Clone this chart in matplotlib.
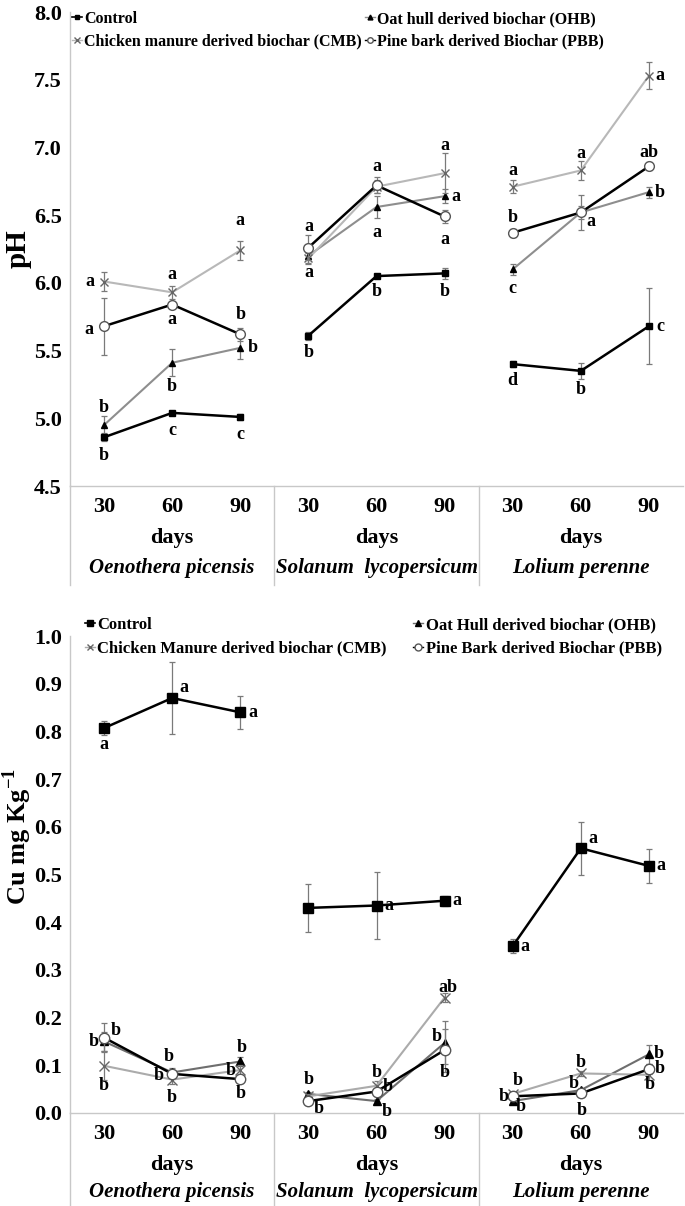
import matplotlib
matplotlib.use('Agg')
import matplotlib.pyplot as plt
from matplotlib.lines import Line2D

plt.rcParams['font.family'] = ['Liberation Serif', 'DejaVu Serif']
plt.rcParams['font.weight'] = 'bold'
plt.rcParams['mathtext.fontset'] = 'custom'
plt.rcParams['mathtext.rm'] = 'Liberation Serif:bold'
plt.rcParams['mathtext.bf'] = 'Liberation Serif:bold'

# ---------------- data ----------------
days = ['30', '60', '90']
species = ['Oenothera picensis', 'Solanum  lycopersicum', 'Lolium perenne']
series_names_ph = ['Control', 'Oat hull derived biochar (OHB)',
                   'Chicken manure derived biochar (CMB)', 'Pine bark derived Biochar (PBB)']
series_names_cu = ['Control', 'Oat Hull derived biochar (OHB)',
                   'Chicken Manure derived biochar (CMB)', 'Pine Bark derived Biochar (PBB)']

ph_control = [4.86, 5.04, 5.01, 5.61, 6.05, 6.07, 5.40, 5.35, 5.68]
ph_control_err = [0.03, 0.01, 0.02, 0.03, 0.01, 0.04, 0.02, 0.06, 0.28]
ph_ohb = [4.95, 5.41, 5.52, 6.20, 6.56, 6.64, 6.10, 6.52, 6.67]
ph_ohb_err = [0.07, 0.10, 0.08, 0.05, 0.08, 0.05, 0.04, 0.05, 0.04]
ph_cmb = [6.01, 5.93, 6.24, 6.18, 6.71, 6.81, 6.71, 6.83, 7.53]
ph_cmb_err = [0.07, 0.05, 0.07, 0.04, 0.05, 0.15, 0.05, 0.07, 0.10]
ph_pbb = [5.68, 5.84, 5.62, 6.26, 6.72, 6.49, 6.37, 6.52, 6.86]
ph_pbb_err = [0.21, 0.01, 0.05, 0.09, 0.06, 0.05, 0.03, 0.13, 0.03]

ph_control_let = ['b', 'c', 'c', 'b', 'b', 'b', 'd', 'b', 'c']
ph_ohb_let = ['b', 'b', 'b', '', 'a', 'a', 'c', '', 'b']
ph_cmb_let = ['a', 'a', 'a', 'a', '', 'a', 'a', 'a', 'a']
ph_pbb_let = ['a', 'a', 'b', 'a', 'a', 'a', 'b', 'a', 'ab']

cu_control = [0.807, 0.870, 0.840, 0.430, 0.435, 0.445, 0.350, 0.555, 0.518]
cu_control_err = [0.015, 0.075, 0.035, 0.050, 0.070, 0.010, 0.015, 0.056, 0.036]
cu_ohb = [0.150, 0.085, 0.108, 0.040, 0.025, 0.147, 0.025, 0.048, 0.123]
cu_ohb_err = [0.020, 0.010, 0.010, 0.005, 0.005, 0.045, 0.005, 0.005, 0.020]
cu_cmb = [0.099, 0.070, 0.090, 0.035, 0.057, 0.242, 0.040, 0.083, 0.080]
cu_cmb_err = [0.030, 0.010, 0.010, 0.005, 0.010, 0.010, 0.005, 0.005, 0.010]
cu_pbb = [0.158, 0.082, 0.071, 0.025, 0.045, 0.132, 0.035, 0.041, 0.092]
cu_pbb_err = [0.030, 0.005, 0.005, 0.005, 0.005, 0.045, 0.005, 0.005, 0.010]

cu_control_let = ['a', 'a', 'a', '', 'a', 'a', 'a', 'a', 'a']
cu_ohb_let = ['b', 'b', 'b', 'b', 'b', 'b', 'b', 'b', 'b']
cu_cmb_let = ['b', 'b', 'b', '', 'b', 'ab', 'b', 'b', 'b']
cu_pbb_let = ['b', 'b', 'b', 'b', 'b', 'b', 'b', 'b', 'b']

# ---------------- layout (letter offsets in pixels) ----------------
B = (0, -18)
ph_control_off = [B, B, B, (0, -17), (0, -15), (0, -18), (0, -16), (0, -19), (11, 0)]
ph_ohb_off = [(0, 18), (0, -24), (12, 0), (0, 0), (0, -25), (11, 0), (0, -19), (0, 0), (11, 0)]
ph_cmb_off = [(-14, 0), (0, 18), (0, 30), (0, -14), (0, 0), (0, 28), (0, 16), (0, 17), (11, 0)]
ph_pbb_off = [(-15, -3), (0, -15), (0, 20), (0, 21), (0, 19), (0, -23), (0, 15), (10, -9), (0, 14)]

cu_control_off = [(0, -16), (12, 11), (13, 0), (0, 0), (12, 0), (12, 0), (12, 0), (12, 10), (12, 0)]
cu_ohb_off = [(-10, 0), (-13, -3), (1, 14), (0, 14), (10, -10), (-8, 6), (8, -5), (-7, 7), (10, 1)]
cu_cmb_off = [(0, -20), (0, -18), (-10, 0), (0, 0), (0, 13), (3, 10), (5, 13), (0, 11), (1, -10)]
cu_pbb_off = [(12, 7), (-3, 17), (0, -14), (10, -7), (11, 5), (0, -22), (-9, 0), (1, -17), (11, 1)]

W, H = 685, 1206
fig = plt.figure(figsize=(W / 100, H / 100), dpi=100)


def axes_px(left, top, right, bottom):
    return fig.add_axes([left / W, 1 - bottom / H, (right - left) / W, (bottom - top) / H])


xs = list(range(9))
AXC = '#c8c8c8'
ERRC = '#7a7a7a'


def draw_series(ax, vals, errs, lets, offs, style, zo):
    for g in range(3):
        gx = xs[3 * g:3 * g + 3]
        gv = vals[3 * g:3 * g + 3]
        ge = errs[3 * g:3 * g + 3]
        ax.errorbar(gx, gv, yerr=ge, fmt='none', ecolor=ERRC, elinewidth=0.9,
                    capsize=2, capthick=0.9, zorder=zo - 0.5)
        ax.plot(gx, gv, zorder=zo, **style)
    for x, v, t, o in zip(xs, vals, lets, offs):
        if t:
            ax.annotate(t, (x, v), xytext=o, textcoords='offset pixels',
                        ha='center', va='center', fontsize=13, fontweight='bold',
                        zorder=20)


def setup_axes(ax, ylo, yhi, yticks, fmt, table_px, offs_px):
    ax.set_xlim(-0.5, 8.5)
    ax.set_ylim(ylo, yhi)
    ax.set_yticks(yticks)
    ax.set_yticklabels([fmt.format(t) for t in yticks], fontsize=16, fontweight='bold')
    ax.tick_params(axis='y', length=0, pad=6)
    ax.set_xticks([])
    for s in ['top', 'right']:
        ax.spines[s].set_visible(False)
    for s in ['left', 'bottom']:
        ax.spines[s].set_color(AXC)
        ax.spines[s].set_linewidth(1.0)
    tr = ax.get_xaxis_transform()
    hpx = ax.get_position().height * H
    for xb in [-0.5, 2.5, 5.5]:
        ax.plot([xb, xb], [0, -table_px / hpx], transform=tr, color=AXC, lw=1.0,
                clip_on=False)
    for g in range(3):
        for i in range(3):
            ax.annotate(days[i], (3 * g + i, 0), xycoords=tr, xytext=(0, -offs_px[0]),
                        textcoords='offset pixels', ha='center', va='center',
                        fontsize=16, fontweight='bold')
        ax.annotate('days', (3 * g + 1, 0), xycoords=tr, xytext=(0, -offs_px[1]),
                    textcoords='offset pixels', ha='center', va='center',
                    fontsize=16, fontweight='bold')
        ax.annotate(species[g], (3 * g + 1, 0), xycoords=tr, xytext=(0, -offs_px[2]),
                    textcoords='offset pixels', ha='center', va='center',
                    fontsize=15, fontweight='bold', fontstyle='italic')


# ---------------- top chart: pH ----------------
ax1 = axes_px(70, 12, 683, 486)
setup_axes(ax1, 4.5, 8.0, [4.5, 5.0, 5.5, 6.0, 6.5, 7.0, 7.5, 8.0], '{:.1f}', 99, (21, 52, 82))
ax1.set_ylabel('pH', fontsize=21, fontweight='bold')
ax1.yaxis.set_label_coords(-0.062, 0.5)

st_ctrl = dict(color='black', lw=1.8, marker='s', ms=4, mfc='black', mec='black')
st_ohb = dict(color='#8e8e8e', lw=1.5, marker='^', ms=5, mfc='black', mec='black')
st_cmb = dict(color='#b8b8b8', lw=1.5, marker='x', ms=6, mec='#666666', mew=1.0)
st_pbb = dict(color='black', lw=1.8, marker='o', ms=7, mfc='white', mec='#555555', mew=1.0)

draw_series(ax1, ph_control, ph_control_err, ph_control_let, ph_control_off, st_ctrl, 5)
draw_series(ax1, ph_ohb, ph_ohb_err, ph_ohb_let, ph_ohb_off, st_ohb, 3)
draw_series(ax1, ph_cmb, ph_cmb_err, ph_cmb_let, ph_cmb_off, st_cmb, 4)
draw_series(ax1, ph_pbb, ph_pbb_err, ph_pbb_let, ph_pbb_off, st_pbb, 6)

hd = [Line2D([], [], color='black', lw=1.2, marker='s', ms=2.5),
      Line2D([], [], color='#b8b8b8', lw=1.0, marker='x', ms=4, mec='#666666'),
      Line2D([], [], color='#8e8e8e', lw=1.0, marker='^', ms=3.5, mfc='black', mec='black'),
      Line2D([], [], color='black', lw=1.0, marker='o', ms=4, mfc='white', mec='#555555')]
lb = [series_names_ph[0], series_names_ph[2], series_names_ph[1], series_names_ph[3]]
ax1.legend(hd, lb, ncol=2, loc='upper left', bbox_to_anchor=(0.004, 1.002),
           frameon=False, handlelength=0.6, handletextpad=0.15,
           columnspacing=0.2, labelspacing=0.4, borderpad=0, borderaxespad=0,
           prop={'weight': 'bold', 'size': 11.5})

# ---------------- bottom chart: Cu ----------------
ax2 = axes_px(70, 636, 683, 1113)
setup_axes(ax2, 0.0, 1.0, [0.0, 0.1, 0.2, 0.3, 0.4, 0.5, 0.6, 0.7, 0.8, 0.9, 1.0], '{:.1f}',
           93, (21, 52, 79))
ax2.set_ylabel(r'Cu mg Kg$^{\mathregular{-1}}$', fontsize=19, fontweight='bold')
ax2.yaxis.set_label_coords(-0.058, 0.58)

sc_ctrl = dict(color='black', lw=1.8, marker='s', ms=6.5, mfc='black', mec='black')
sc_ohb = dict(color='#6e6e6e', lw=1.5, marker='^', ms=6, mfc='black', mec='black')
sc_cmb = dict(color='#ababab', lw=1.5, marker='x', ms=7, mec='#666666', mew=1.0)
sc_pbb = dict(color='black', lw=1.8, marker='o', ms=7.5, mfc='white', mec='#555555', mew=1.0)

draw_series(ax2, cu_control, cu_control_err, cu_control_let, cu_control_off, sc_ctrl, 5)
draw_series(ax2, cu_ohb, cu_ohb_err, cu_ohb_let, cu_ohb_off, sc_ohb, 3)
draw_series(ax2, cu_cmb, cu_cmb_err, cu_cmb_let, cu_cmb_off, sc_cmb, 4)
draw_series(ax2, cu_pbb, cu_pbb_err, cu_pbb_let, cu_pbb_off, sc_pbb, 6)

hd2 = [Line2D([], [], color='black', lw=1.2, marker='s', ms=4.5),
       Line2D([], [], color='#ababab', lw=1.0, marker='x', ms=5, mec='#666666'),
       Line2D([], [], color='#6e6e6e', lw=1.0, marker='^', ms=5, mfc='black', mec='black'),
       Line2D([], [], color='black', lw=1.0, marker='o', ms=5, mfc='white', mec='#555555')]
lb2 = [series_names_cu[0], series_names_cu[2], series_names_cu[1], series_names_cu[3]]
ax2.legend(hd2, lb2, ncol=2, loc='upper left', bbox_to_anchor=(0.024, 1.04),
           frameon=False, handlelength=0.6, handletextpad=0.15,
           columnspacing=1.6, labelspacing=0.45, borderpad=0, borderaxespad=0,
           prop={'weight': 'bold', 'size': 12})

fig.savefig('out.png', dpi=100)
